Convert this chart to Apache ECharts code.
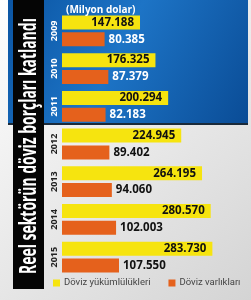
<!DOCTYPE html>
<html><head><meta charset="utf-8">
<script src="https://cdn.jsdelivr.net/npm/echarts@6/dist/echarts.min.js"></script>
<style>html,body{margin:0;padding:0;background:#fff}#c{width:251px;height:300px}</style>
</head><body><div id="c"></div>
<script>
const years = ['2009','2010','2011','2012','2013','2014','2015'];
const yukumluluk = [147188, 176325, 200294, 224945, 264195, 280570, 283730];
const varlik = [80385, 87379, 82183, 89402, 94060, 102003, 107550];
const seriesNames = ['Döviz yükümlülükleri', 'Döviz varlıkları'];
const unitText = '(Milyon dolar)';
const titleText = 'Reel sektörün döviz borçları katlandı';
const blueRows = 3;

function fmt(v){ return String(v).replace(/\B(?=(\d{3})+(?!\d))/g, '.'); }

const chart = echarts.init(document.getElementById('c'));
const F = '"Open Sans", Roboto, sans-serif';
chart.setOption({
  animation: false,
  backgroundColor: new echarts.graphic.LinearGradient(0,0,1,1,[{offset:0,color:'#ffffff'},{offset:1,color:'#d4d4d4'}]),
  graphic: [
    {type:'rect', shape:{x:8,y:0,width:240,height:123}, z:-10,
     style:{fill:new echarts.graphic.LinearGradient(0,0,1,1,[{offset:0,color:'#0b55a3'},{offset:0.45,color:'#1d74c6'},{offset:1,color:'#0a4c96'}])}},
    {type:'rect', shape:{x:8,y:123,width:240,height:2}, z:-9, style:{fill:'#1a2a3a'}},
    {type:'rect', shape:{x:13,y:0,width:31,height:289}, z:-8, style:{fill:'#050505'}},
    {type:'text', x:29, y:146, rotation:Math.PI/2, scaleX:0.58, scaleY:1, z:5,
     style:{text:titleText, fill:'#fff', font:'bold 24px "Open Sans", sans-serif', align:'center', verticalAlign:'middle'}}
  ],
  title: {text: unitText, left: 61, top: 0, textStyle:{color:'#fff', fontSize:10, fontWeight:'bold', fontFamily:F}},
  legend: {
    bottom: 7, left: 48, itemWidth: 7, itemHeight: 7, itemGap: 18, icon: 'rect',
    textStyle:{fontSize:9.5, color:'#444', fontFamily:'Roboto, sans-serif', padding:[0,0,0,-1]},
    data: seriesNames
  },
  grid: {left: 62, right: 30, top: 12, bottom: 24},
  xAxis: {type:'value', min:0, max:300000, show:false},
  yAxis: {
    type:'category', data: years, inverse:true,
    axisLine:{show:false}, axisTick:{show:false},
    axisLabel:{rotate:90, margin:3, fontSize:9, fontWeight:'bold', fontFamily:F,
      color: (v, i) => i < blueRows ? '#ffffff' : '#222222'}
  },
  series: [
    {name: seriesNames[0], type:'bar', barWidth:14, barGap:'20%',
     itemStyle:{color:'#f6e40f'},
     label:{show:true, position:'insideRight', offset:[-1,0], color:'#111', fontSize:11.5, fontWeight:'bold', fontFamily:F,
       formatter: p => fmt(p.value)},
     data: yukumluluk},
    {name: seriesNames[1], type:'bar', barWidth:14,
     itemStyle:{color:'#e5611c'},
     label:{show:true, position:'right', distance:4, fontSize:11.5, fontWeight:'bold', fontFamily:F,
       formatter: p => fmt(p.value)},
     data: varlik.map((v,i) => ({value:v, label:{color: i < blueRows ? '#ffffff' : '#111111'}}))}
  ]
});
</script></body></html>
